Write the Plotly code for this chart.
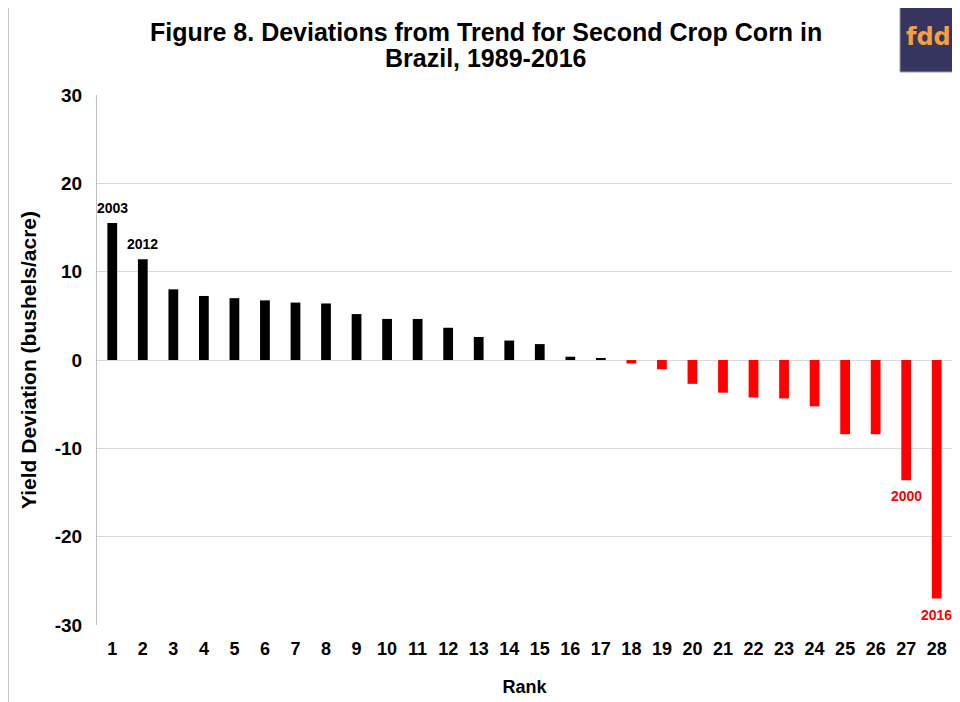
import plotly.graph_objects as go

ranks = list(range(1, 29))
deviations = [15.5, 11.4, 8.0, 7.25, 7.0, 6.75, 6.5, 6.4, 5.2, 4.65, 4.65, 3.65, 2.6, 2.2,
              1.8, 0.37, 0.2, -0.4, -1.05, -2.7, -3.7, -4.25, -4.35, -5.25, -8.4, -8.4, -13.6, -27.0]
year_labels = ["2003", "2012"] + [""] * 24 + ["2000", "2016"]
y_ticks = [-30, -20, -10, 0, 10, 20, 30]
title_lines = ["Figure 8. Deviations from Trend for Second Crop Corn in", "Brazil, 1989-2016"]

colors = ["#000000" if v >= 0 else "#ff0000" for v in deviations]
FONT = "Arial, 'Liberation Sans', sans-serif"

# page is drawn with an 8px body offset; plot area in figure pixels
L, R, T, B = 89, 944, 87, 617
PW, PH = R - L, B - T


def px(x):
    return (x - L) / PW


def py(y):
    return (B - y) / PH


fig = go.Figure()
fig.add_trace(go.Bar(
    x=ranks, y=deviations,
    marker=dict(color=colors, line=dict(width=0)),
    width=0.32,
))

# year labels on the extreme bars
for r, v, lab, c in zip(ranks, deviations, year_labels, colors):
    if lab:
        fig.add_annotation(x=r, y=v, text=f"<b>{lab}</b>", showarrow=False,
                           xanchor="center", yanchor="bottom" if v >= 0 else "top",
                           yshift=5 if v >= 0 else -6,
                           font=dict(family=FONT, size=14, color=c))

fig.update_layout(
    width=960, height=702,
    paper_bgcolor="white", plot_bgcolor="white",
    margin=dict(l=L, r=960 - R, t=T, b=702 - B),
    showlegend=False,
    xaxis=dict(
        tickmode="array", tickvals=ranks, ticktext=[f"<b>{r}</b>" for r in ranks],
        range=[0.5, 28.5], showgrid=False, showline=False, ticks="",
        tickfont=dict(family=FONT, size=18, color="black"), ticklabelstandoff=11,
        title=dict(text="<b>Rank</b>", font=dict(family=FONT, size=18, color="black"), standoff=22),
    ),
    yaxis=dict(
        range=[-30, 30], tickvals=y_ticks, ticktext=[f"<b>{t}</b>" for t in y_ticks],
        showgrid=True, gridcolor="#d9d9d9", gridwidth=1,
        zeroline=True, zerolinecolor="#d9d9d9", zerolinewidth=1,
        showline=True, linecolor="#bfbfbf", linewidth=1, ticks="",
        tickfont=dict(family=FONT, size=19, color="black"), ticklabelstandoff=10,
        title=dict(text="<b>Yield Deviation (bushels/acre)</b>",
                   font=dict(family=FONT, size=21, color="black"), standoff=12),
    ),
)

# title, two lines with tight spacing
for line, yc in zip(title_lines, [24, 50]):
    fig.add_annotation(text=f"<b>{line}</b>", xref="paper", yref="paper",
                       x=px(478), y=py(yc), xanchor="center", yanchor="middle",
                       showarrow=False, font=dict(family=FONT, size=25, color="black"))

# chart border (left edge)
fig.add_shape(type="line", xref="paper", yref="paper", x0=px(0), x1=px(0),
              y0=py(702), y1=py(0), line=dict(color="#c8c8c8", width=2))

# fdd logo
fig.add_shape(type="rect", xref="paper", yref="paper",
              x0=px(892), x1=px(962), y0=py(64), y1=py(-2),
              fillcolor="#36355f", line=dict(color="#9a9ab0", width=1), layer="above")
fig.add_annotation(text="<b>fdd</b>", xref="paper", yref="paper",
                   x=px(896), y=py(29), xanchor="left", yanchor="middle", showarrow=False,
                   font=dict(family="'DejaVu Sans', sans-serif", size=24, color="#f5a040"))

fig.write_html("out.html")
